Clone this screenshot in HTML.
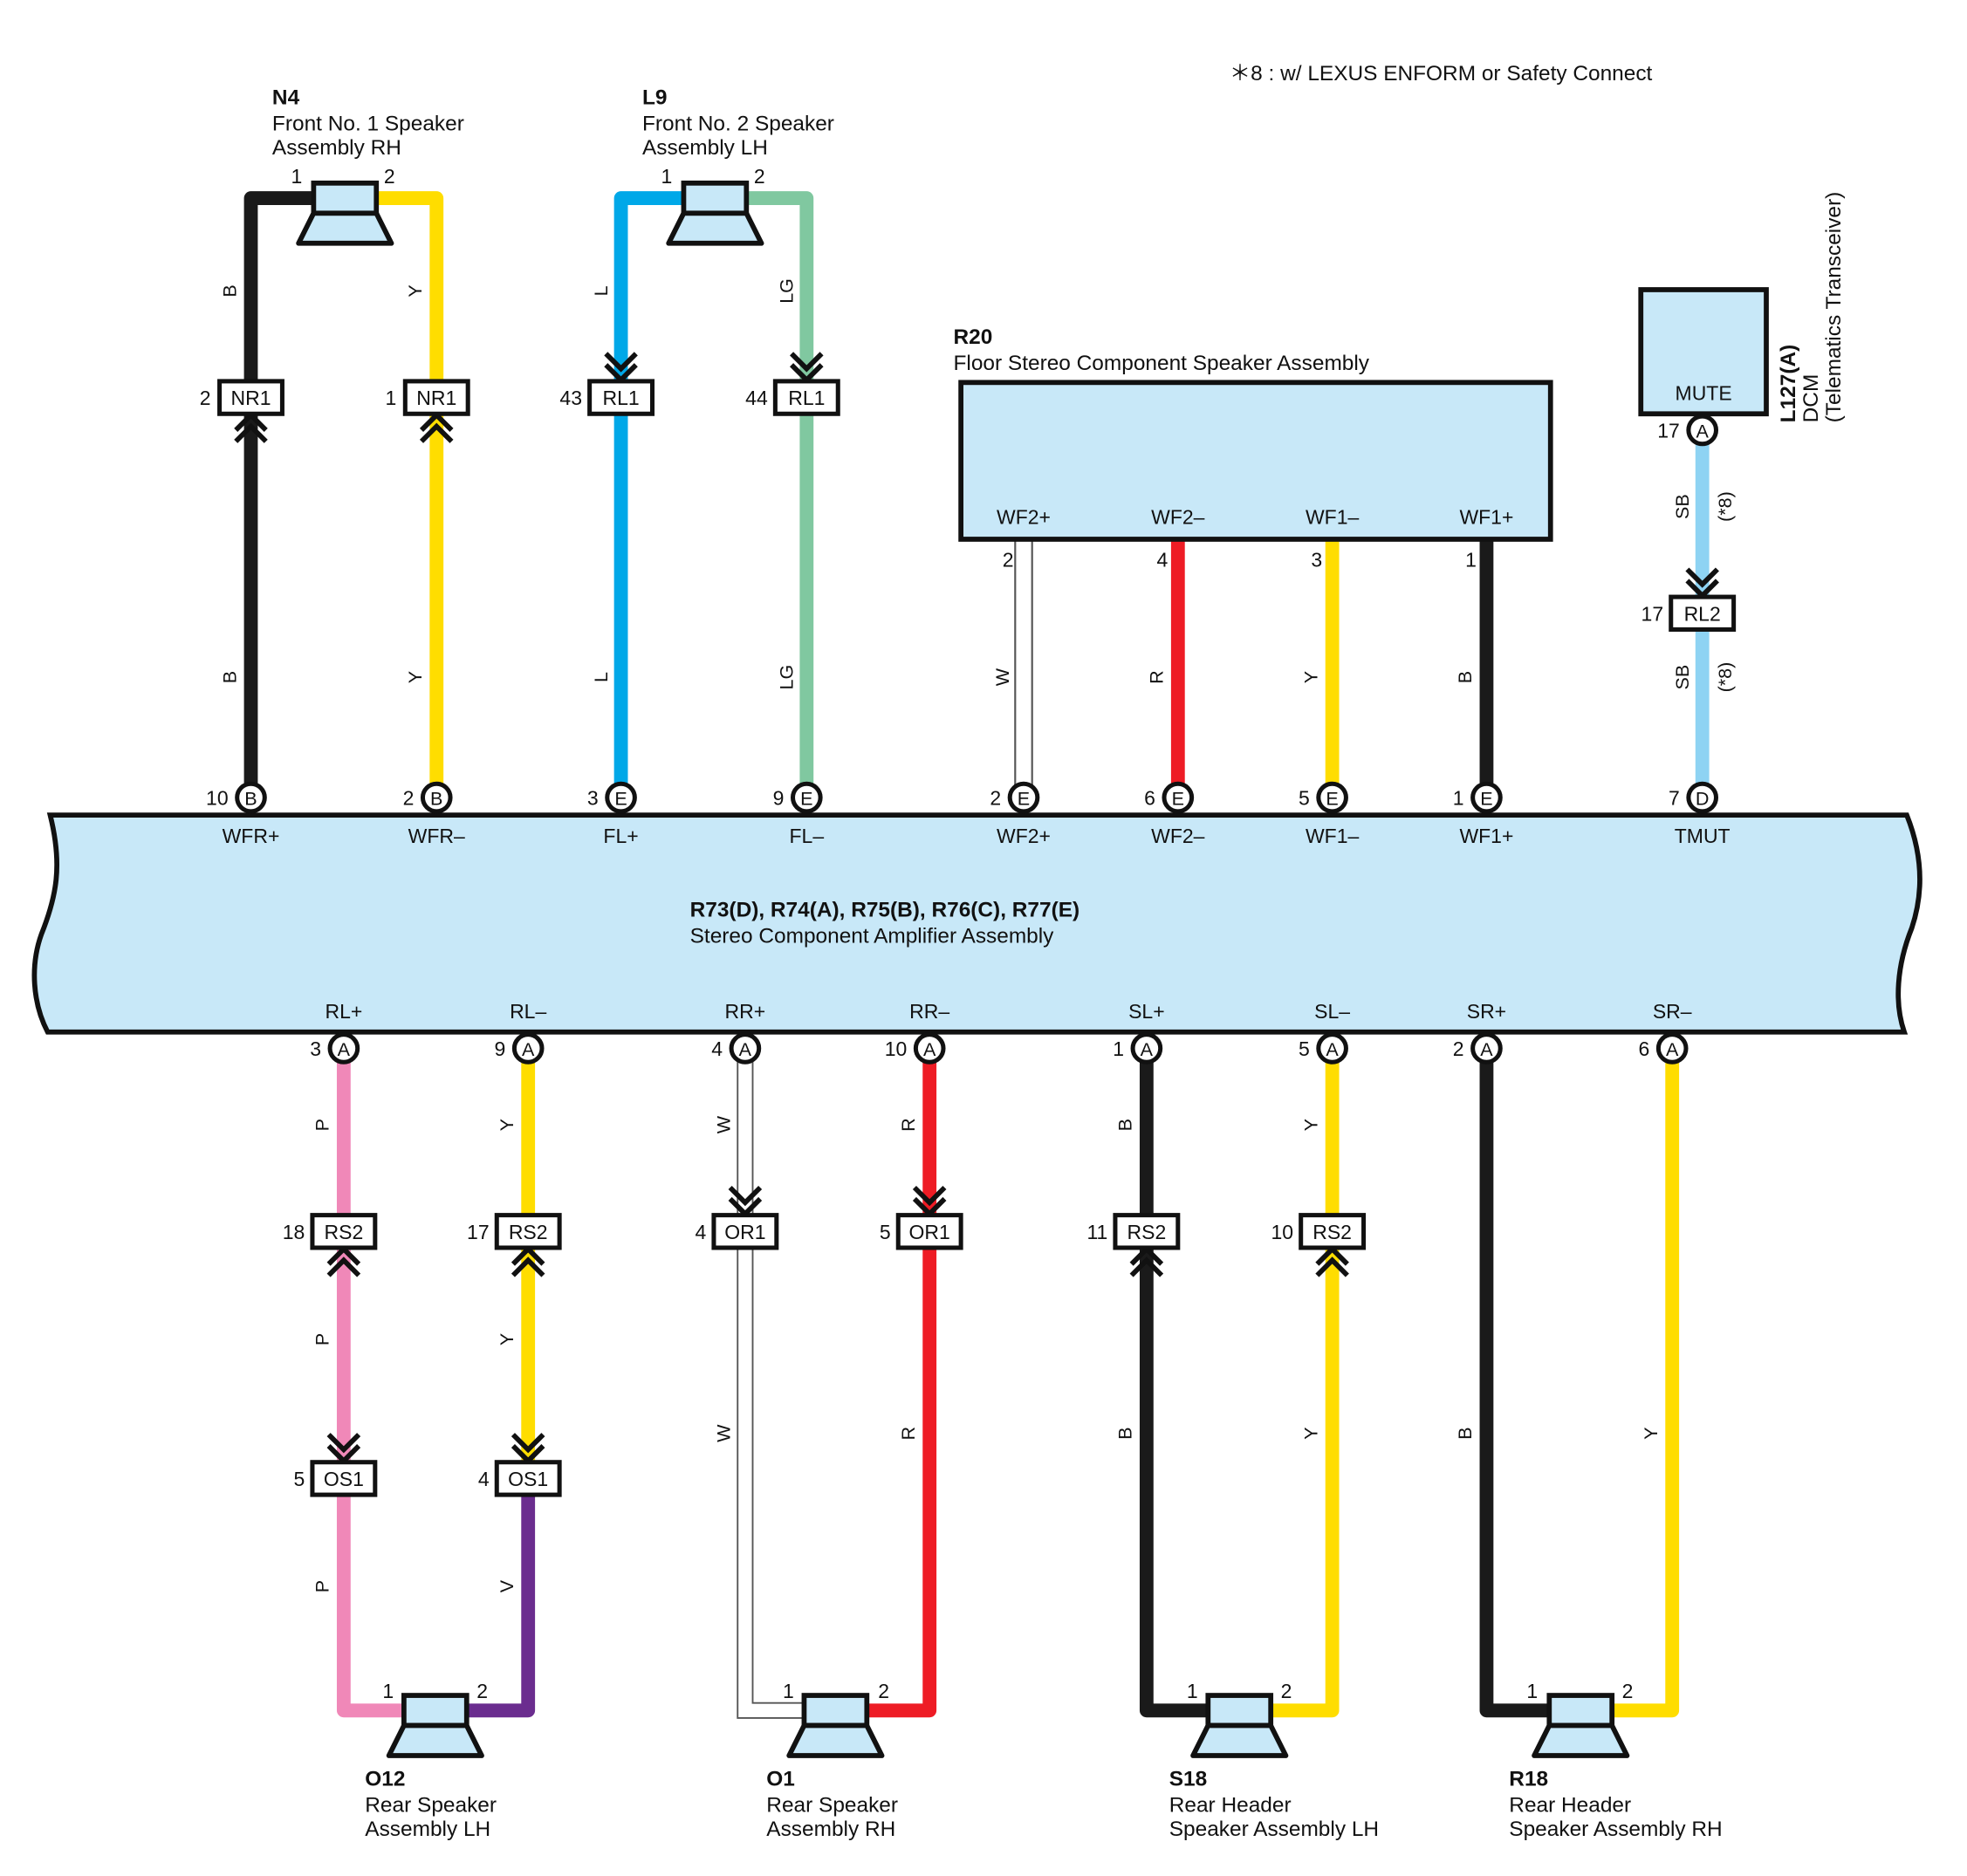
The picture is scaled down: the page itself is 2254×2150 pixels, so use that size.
<!DOCTYPE html>
<html><head><meta charset="utf-8"><style>
html,body{margin:0;padding:0;background:#fff}
svg{display:block}
text{font-family:"Liberation Sans",sans-serif;fill:#111}
</style></head><body>
<svg width="2254" height="2150" viewBox="0 0 1568 1496" preserveAspectRatio="none" xmlns="http://www.w3.org/2000/svg">
<defs>
<g id="spk"><rect x="-25" y="-12" width="50" height="24" fill="#c8e8f8" stroke="#111" stroke-width="4"/><polygon points="-25,12 25,12 37,36 -37,36" fill="#c8e8f8" stroke="#111" stroke-width="4" stroke-linejoin="round"/></g>
<g id="chD"><path d="M-12,-22 L0,-10 L12,-22 M-12,-13 L0,-1 L12,-13" fill="none" stroke="#111" stroke-width="4"/></g>
<g id="chU"><path d="M-12,22 L0,10 L12,22 M-12,13 L0,1 L12,13" fill="none" stroke="#111" stroke-width="4"/></g>
<g id="box"><rect x="-25" y="-13" width="50" height="26" fill="#fff" stroke="#111" stroke-width="3.5"/></g>
<g id="pin"><circle r="11" fill="#fff" stroke="#111" stroke-width="3.5"/></g>
</defs>

<text x="980" y="64" font-size="17">＊8 : w/ LEXUS ENFORM or Safety Connect</text>

<g fill="none" stroke-linejoin="round" stroke-width="11">
<path d="M250,158 H200 V636" stroke="#1a1a1a"/>
<path d="M300,158 H348 V636" stroke="#ffdd00"/>
<path d="M545,158 H495 V636" stroke="#00a8e8"/>
<path d="M595,158 H643 V636" stroke="#80c8a0"/>
<path d="M939,430 V636" stroke="#ee1c25"/>
<path d="M1062,430 V636" stroke="#ffdd00"/>
<path d="M1185,430 V636" stroke="#1a1a1a"/>
<path d="M1357,343 V636" stroke="#8ed3f3"/>
<path d="M816,430 V636" stroke="#555" stroke-width="15"/>
<path d="M816,430 V636" stroke="#fff" stroke-width="12"/>
</g>

<use href="#spk" x="275" y="158"/>
<use href="#spk" x="570" y="158"/>
<text x="217" y="83" font-size="17" font-weight="bold">N4</text>
<text x="217" y="104" font-size="17">Front No. 1 Speaker</text>
<text x="217" y="123" font-size="17">Assembly RH</text>
<text x="512" y="83" font-size="17" font-weight="bold">L9</text>
<text x="512" y="104" font-size="17">Front No. 2 Speaker</text>
<text x="512" y="123" font-size="17">Assembly LH</text>
<g font-size="16"><text x="232" y="146">1</text><text x="306" y="146">2</text><text x="527" y="146">1</text><text x="601" y="146">2</text></g>

<use href="#chU" x="200" y="330"/><use href="#chU" x="348" y="330"/>
<use href="#chD" x="495" y="304"/><use href="#chD" x="643" y="304"/>
<use href="#box" x="200" y="317"/><use href="#box" x="348" y="317"/>
<use href="#box" x="495" y="317"/><use href="#box" x="643" y="317"/>
<g font-size="16" text-anchor="middle"><text x="200" y="323">NR1</text><text x="348" y="323">NR1</text><text x="495" y="323">RL1</text><text x="643" y="323">RL1</text></g>
<g font-size="16" text-anchor="end"><text x="168" y="323">2</text><text x="316" y="323">1</text><text x="464" y="323">43</text><text x="612" y="323">44</text></g>

<g font-size="15" text-anchor="middle">
<text transform="translate(188,232) rotate(-90)">B</text><text transform="translate(188,540) rotate(-90)">B</text>
<text transform="translate(336,232) rotate(-90)">Y</text><text transform="translate(336,540) rotate(-90)">Y</text>
<text transform="translate(484,232) rotate(-90)">L</text><text transform="translate(484,540) rotate(-90)">L</text>
<text transform="translate(632,232) rotate(-90)">LG</text><text transform="translate(632,540) rotate(-90)">LG</text>
<text transform="translate(804,540) rotate(-90)">W</text>
<text transform="translate(927,540) rotate(-90)">R</text>
<text transform="translate(1050,540) rotate(-90)">Y</text>
<text transform="translate(1173,540) rotate(-90)">B</text>
<text transform="translate(1346,404) rotate(-90)">SB</text><text transform="translate(1346,540) rotate(-90)">SB</text>
<text transform="translate(1380,404) rotate(-90)">(*8)</text><text transform="translate(1380,540) rotate(-90)">(*8)</text>
</g>

<text x="760" y="274" font-size="17" font-weight="bold">R20</text>
<text x="760" y="295" font-size="17">Floor Stereo Component Speaker Assembly</text>
<rect x="766" y="305" width="470" height="125" fill="#c8e8f8" stroke="#111" stroke-width="4"/>
<g font-size="16" text-anchor="middle"><text x="816" y="418">WF2+</text><text x="939" y="418">WF2–</text><text x="1062" y="418">WF1–</text><text x="1185" y="418">WF1+</text></g>
<g font-size="16" text-anchor="end"><text x="808" y="452">2</text><text x="931" y="452">4</text><text x="1054" y="452">3</text><text x="1177" y="452">1</text></g>

<rect x="1308" y="231" width="100" height="99" fill="#c8e8f8" stroke="#111" stroke-width="4"/>
<text x="1358" y="319" font-size="16" text-anchor="middle">MUTE</text>
<use href="#pin" x="1357" y="343"/><text x="1357" y="349" font-size="15" text-anchor="middle">A</text>
<text x="1339" y="349" font-size="16" text-anchor="end">17</text>
<text transform="translate(1431,337) rotate(-90)" font-size="17" font-weight="bold">L127(A)</text>
<text transform="translate(1449,337) rotate(-90)" font-size="17">DCM</text>
<text transform="translate(1467,337) rotate(-90)" font-size="17">(Telematics Transceiver)</text>
<use href="#chD" x="1357" y="476"/>
<use href="#box" x="1357" y="489"/><text x="1357" y="495" font-size="16" text-anchor="middle">RL2</text>
<text x="1326" y="495" font-size="16" text-anchor="end">17</text>

<g fill="none" stroke-linejoin="round" stroke-width="11">
<path d="M274,836 V1364 H322" stroke="#f088b8"/>
<path d="M421,836 V1179" stroke="#ffdd00"/>
<path d="M421,1179 V1364 H373" stroke="#6b2d8f"/>
<path d="M741,836 V1364 H692" stroke="#ee1c25"/>
<path d="M914,836 V1364 H963" stroke="#1a1a1a"/>
<path d="M1062,836 V1364 H1013" stroke="#ffdd00"/>
<path d="M1185,836 V1364 H1235" stroke="#1a1a1a"/>
<path d="M1333,836 V1364 H1285" stroke="#ffdd00"/>
</g>
<path d="M588,836 V1370 H641 M600,836 V1358 H641" fill="none" stroke="#555" stroke-width="1.3"/>

<path d="M40,650 H1520 C1532,680 1534,710 1524,740 C1512,770 1510,800 1518,823 H38 C26,800 24,770 33,745 C45,715 50,690 40,650 Z" fill="#c8e8f8" stroke="#111" stroke-width="4"/>
<text x="550" y="731" font-size="17" font-weight="bold">R73(D), R74(A), R75(B), R76(C), R77(E)</text>
<text x="550" y="752" font-size="17">Stereo Component Amplifier Assembly</text>
<g font-size="16" text-anchor="middle">
<text x="200" y="672">WFR+</text><text x="348" y="672">WFR–</text><text x="495" y="672">FL+</text><text x="643" y="672">FL–</text>
<text x="816" y="672">WF2+</text><text x="939" y="672">WF2–</text><text x="1062" y="672">WF1–</text><text x="1185" y="672">WF1+</text><text x="1357" y="672">TMUT</text>
<text x="274" y="812">RL+</text><text x="421" y="812">RL–</text><text x="594" y="812">RR+</text><text x="741" y="812">RR–</text>
<text x="914" y="812">SL+</text><text x="1062" y="812">SL–</text><text x="1185" y="812">SR+</text><text x="1333" y="812">SR–</text>
</g>

<g>
<use href="#pin" x="200" y="636"/><use href="#pin" x="348" y="636"/><use href="#pin" x="495" y="636"/><use href="#pin" x="643" y="636"/>
<use href="#pin" x="816" y="636"/><use href="#pin" x="939" y="636"/><use href="#pin" x="1062" y="636"/><use href="#pin" x="1185" y="636"/><use href="#pin" x="1357" y="636"/>
</g>
<g font-size="15" text-anchor="middle">
<text x="200" y="642">B</text><text x="348" y="642">B</text><text x="495" y="642">E</text><text x="643" y="642">E</text>
<text x="816" y="642">E</text><text x="939" y="642">E</text><text x="1062" y="642">E</text><text x="1185" y="642">E</text><text x="1357" y="642">D</text>
</g>
<g font-size="16" text-anchor="end">
<text x="182" y="642">10</text><text x="330" y="642">2</text><text x="477" y="642">3</text><text x="625" y="642">9</text>
<text x="798" y="642">2</text><text x="921" y="642">6</text><text x="1044" y="642">5</text><text x="1167" y="642">1</text><text x="1339" y="642">7</text>
</g>

<g>
<use href="#pin" x="274" y="836"/><use href="#pin" x="421" y="836"/><use href="#pin" x="594" y="836"/><use href="#pin" x="741" y="836"/>
<use href="#pin" x="914" y="836"/><use href="#pin" x="1062" y="836"/><use href="#pin" x="1185" y="836"/><use href="#pin" x="1333" y="836"/>
</g>
<g font-size="15" text-anchor="middle">
<text x="274" y="842">A</text><text x="421" y="842">A</text><text x="594" y="842">A</text><text x="741" y="842">A</text>
<text x="914" y="842">A</text><text x="1062" y="842">A</text><text x="1185" y="842">A</text><text x="1333" y="842">A</text>
</g>
<g font-size="16" text-anchor="end">
<text x="256" y="842">3</text><text x="403" y="842">9</text><text x="576" y="842">4</text><text x="723" y="842">10</text>
<text x="896" y="842">1</text><text x="1044" y="842">5</text><text x="1167" y="842">2</text><text x="1315" y="842">6</text>
</g>

<use href="#chU" x="274" y="995"/><use href="#chU" x="421" y="995"/><use href="#chU" x="914" y="995"/><use href="#chU" x="1062" y="995"/>
<use href="#chD" x="594" y="969"/><use href="#chD" x="741" y="969"/>
<use href="#chD" x="274" y="1166"/><use href="#chD" x="421" y="1166"/>
<use href="#box" x="274" y="982"/><use href="#box" x="421" y="982"/><use href="#box" x="594" y="982"/><use href="#box" x="741" y="982"/>
<use href="#box" x="914" y="982"/><use href="#box" x="1062" y="982"/>
<use href="#box" x="274" y="1179"/><use href="#box" x="421" y="1179"/>
<g font-size="16" text-anchor="middle">
<text x="274" y="988">RS2</text><text x="421" y="988">RS2</text><text x="594" y="988">OR1</text><text x="741" y="988">OR1</text>
<text x="914" y="988">RS2</text><text x="1062" y="988">RS2</text><text x="274" y="1185">OS1</text><text x="421" y="1185">OS1</text>
</g>
<g font-size="16" text-anchor="end">
<text x="243" y="988">18</text><text x="390" y="988">17</text><text x="563" y="988">4</text><text x="710" y="988">5</text>
<text x="883" y="988">11</text><text x="1031" y="988">10</text><text x="243" y="1185">5</text><text x="390" y="1185">4</text>
</g>
<g font-size="15" text-anchor="middle">
<text transform="translate(262,897) rotate(-90)">P</text><text transform="translate(262,1068) rotate(-90)">P</text><text transform="translate(262,1265) rotate(-90)">P</text>
<text transform="translate(409,897) rotate(-90)">Y</text><text transform="translate(409,1068) rotate(-90)">Y</text><text transform="translate(409,1265) rotate(-90)">V</text>
<text transform="translate(582,897) rotate(-90)">W</text><text transform="translate(582,1143) rotate(-90)">W</text>
<text transform="translate(729,897) rotate(-90)">R</text><text transform="translate(729,1143) rotate(-90)">R</text>
<text transform="translate(902,897) rotate(-90)">B</text><text transform="translate(902,1143) rotate(-90)">B</text>
<text transform="translate(1050,897) rotate(-90)">Y</text><text transform="translate(1050,1143) rotate(-90)">Y</text>
<text transform="translate(1173,1143) rotate(-90)">B</text>
<text transform="translate(1321,1143) rotate(-90)">Y</text>
</g>

<use href="#spk" x="347" y="1364"/><use href="#spk" x="666" y="1364"/><use href="#spk" x="988" y="1364"/><use href="#spk" x="1260" y="1364"/>
<g font-size="16">
<text x="305" y="1354">1</text><text x="380" y="1354">2</text>
<text x="624" y="1354">1</text><text x="700" y="1354">2</text>
<text x="946" y="1354">1</text><text x="1021" y="1354">2</text>
<text x="1217" y="1354">1</text><text x="1293" y="1354">2</text>
</g>
<g font-size="17">
<text x="291" y="1424" font-weight="bold">O12</text><text x="291" y="1445">Rear Speaker</text><text x="291" y="1464">Assembly LH</text>
<text x="611" y="1424" font-weight="bold">O1</text><text x="611" y="1445">Rear Speaker</text><text x="611" y="1464">Assembly RH</text>
<text x="932" y="1424" font-weight="bold">S18</text><text x="932" y="1445">Rear Header</text><text x="932" y="1464">Speaker Assembly LH</text>
<text x="1203" y="1424" font-weight="bold">R18</text><text x="1203" y="1445">Rear Header</text><text x="1203" y="1464">Speaker Assembly RH</text>
</g>
</svg>
</body></html>
